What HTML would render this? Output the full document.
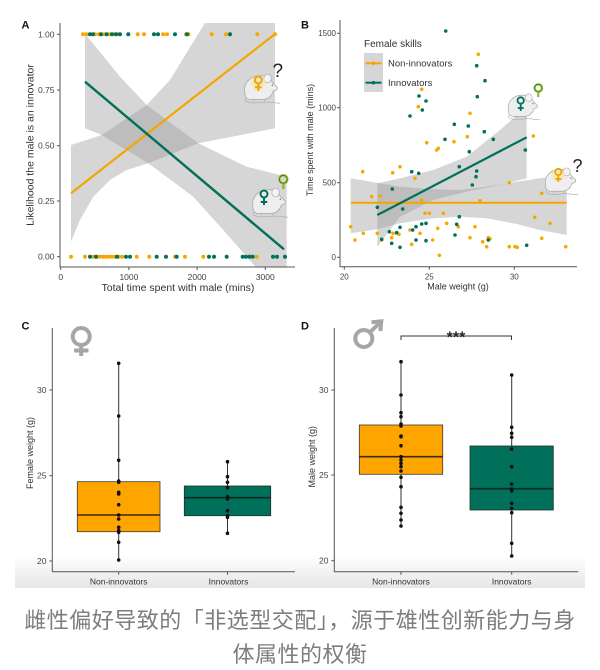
<!DOCTYPE html>
<html><head><meta charset="utf-8">
<style>
html,body{margin:0;padding:0;background:#fff;}
body{width:600px;height:670px;overflow:hidden;}
svg{display:block;}
text{font-family:"Liberation Sans",Arial,sans-serif;}
.cap{font-family:"Liberation Sans","Noto Sans CJK SC",sans-serif;}
</style></head><body>
<svg width="600" height="670" viewBox="0 0 600 670" xmlns="http://www.w3.org/2000/svg">
<defs>
<linearGradient id="band" x1="0" y1="0" x2="0" y2="1">
<stop offset="0" stop-color="#ffffff"/><stop offset="1" stop-color="#e6e6e6"/>
</linearGradient>
<clipPath id="clipA"><rect x="60" y="23" width="235" height="244"/></clipPath>
<clipPath id="clipB"><rect x="340" y="20" width="237" height="246"/></clipPath>
<g id="mouse">
<path d="M6,29 C0,33 10,36 22,34 C30,33 36,35 41,35" fill="none" stroke="#aaa" stroke-width="0.7"/>
<path d="M4,24 C2,14 10,6 20,6 C27,6 31,9 33,13 L38,18 C39,20 37,22 34,22 C33,26 30,30 24,31 L10,31 C6,31 4,28 4,24 Z" fill="#eeeeee" stroke="#a8a8a8" stroke-width="0.8"/>
<ellipse cx="28" cy="9" rx="4" ry="4.5" fill="#f4f4f4" stroke="#a8a8a8" stroke-width="0.7"/>
<circle cx="33" cy="16" r="0.7" fill="#666"/>
<path d="M14,31 l-1,2 M24,31 l1,2" stroke="#aaa" stroke-width="0.7"/>
</g>
</defs>

<!-- bottom gradient band -->
<rect x="15" y="556" width="570" height="32" fill="url(#band)"/>

<!-- ================= PANEL A ================= -->
<g clip-path="url(#clipA)">
<polygon fill="#999" fill-opacity="0.4" points="71,145 101.7,135 146.7,105 170,80 206.7,20 275,20 275,128.3 198.3,143.3 148.3,163.3 126.7,170 110,180 93.3,196.7 80,220 71,241.7"/>
<polygon fill="#999" fill-opacity="0.4" points="85,34 100,52 120,76.7 146.7,105 198.3,143.3 246.7,166.7 286.7,176.7 286.7,270 258.3,270 225,232 193.3,196.7 148.3,163.3 101.7,135 85,128.3"/>
</g>
<!-- mice A -->
<use href="#mouse" transform="translate(241,70) scale(0.95)"/>
<use href="#mouse" transform="translate(249,184) scale(0.95)"/>
<circle cx="258.3" cy="83" r="7" fill="#f7e6b0" opacity="0.7"/>
<g stroke="#F2A400" stroke-width="2" fill="none"><circle cx="258.3" cy="80" r="3.5"/><line x1="258.3" y1="83.5" x2="258.3" y2="91"/><line x1="255" y1="87.3" x2="261.6" y2="87.3"/></g>
<text x="272.5" y="77" font-size="19" fill="#222">?</text>
<g stroke="#00705A" stroke-width="2" fill="none"><circle cx="264" cy="194" r="3.5"/><line x1="264" y1="197.5" x2="264" y2="205"/><line x1="260.7" y1="202" x2="267.3" y2="202"/></g>
<g fill="none"><circle cx="283.3" cy="179.3" r="4" stroke="#a8c83a" stroke-width="2.6"/><circle cx="283.3" cy="179.3" r="4" stroke="#2f6b2f" stroke-width="0.8"/><line x1="283.3" y1="183.3" x2="283.3" y2="189" stroke="#8fb830" stroke-width="2.4"/></g>

<!-- lines A -->
<line x1="71" y1="193.3" x2="275" y2="34" stroke="#F5A500" stroke-width="2.2"/>
<line x1="85" y1="81.7" x2="284" y2="249.3" stroke="#00705A" stroke-width="2.4"/>

<!-- points A top -->
<g fill="#F7A800">
<circle cx="83" cy="34.3" r="2"/><circle cx="86.5" cy="34.3" r="2"/><circle cx="95" cy="34.3" r="2"/><circle cx="99" cy="34.3" r="2"/><circle cx="104" cy="34.3" r="2"/><circle cx="110" cy="34.3" r="2"/><circle cx="115" cy="34.3" r="2"/><circle cx="118" cy="34.3" r="2"/><circle cx="137.7" cy="34.3" r="2"/><circle cx="144" cy="34.3" r="2"/><circle cx="163" cy="34.3" r="2"/><circle cx="167" cy="34.3" r="2"/><circle cx="186" cy="34.3" r="2"/><circle cx="188.5" cy="34.3" r="2"/><circle cx="211.7" cy="34.3" r="2"/><circle cx="226" cy="34.3" r="2"/><circle cx="257.3" cy="34.3" r="2"/><circle cx="275" cy="34.3" r="2"/>
</g>
<g fill="#00705A">
<circle cx="90" cy="34.3" r="2"/><circle cx="93" cy="34.3" r="2"/><circle cx="101" cy="34.3" r="2"/><circle cx="106.7" cy="34.3" r="2"/><circle cx="112" cy="34.3" r="2"/><circle cx="116" cy="34.3" r="2"/><circle cx="120" cy="34.3" r="2"/><circle cx="128.3" cy="34.3" r="2"/><circle cx="154" cy="34.3" r="2"/><circle cx="158" cy="34.3" r="2"/><circle cx="175" cy="34.3" r="2"/><circle cx="187" cy="34.3" r="2"/><circle cx="230" cy="34.3" r="2"/>
</g>
<!-- points A bottom -->
<g fill="#F7A800">
<circle cx="71" cy="256.7" r="2"/><circle cx="85" cy="256.7" r="2"/><circle cx="93.3" cy="256.7" r="2"/><circle cx="97" cy="256.7" r="2"/><circle cx="100" cy="256.7" r="2"/><circle cx="103" cy="256.7" r="2"/><circle cx="106" cy="256.7" r="2"/><circle cx="109" cy="256.7" r="2"/><circle cx="112" cy="256.7" r="2"/><circle cx="115" cy="256.7" r="2"/><circle cx="119" cy="256.7" r="2"/><circle cx="122" cy="256.7" r="2"/><circle cx="136.7" cy="256.7" r="2"/><circle cx="149.3" cy="256.7" r="2"/><circle cx="175" cy="256.7" r="2"/><circle cx="185" cy="256.7" r="2"/><circle cx="203.3" cy="256.7" r="2"/><circle cx="256.7" cy="256.7" r="2"/>
</g>
<g fill="#00705A">
<circle cx="90" cy="256.7" r="2"/><circle cx="96" cy="256.7" r="2"/><circle cx="117" cy="256.7" r="2"/><circle cx="126" cy="256.7" r="2"/><circle cx="130" cy="256.7" r="2"/><circle cx="156.7" cy="256.7" r="2"/><circle cx="166" cy="256.7" r="2"/><circle cx="176.7" cy="256.7" r="2"/><circle cx="209" cy="256.7" r="2"/><circle cx="214" cy="256.7" r="2"/><circle cx="226.7" cy="256.7" r="2"/><circle cx="242.7" cy="256.7" r="2"/><circle cx="246" cy="256.7" r="2"/><circle cx="249.5" cy="256.7" r="2"/><circle cx="252.7" cy="256.7" r="2"/><circle cx="273" cy="256.7" r="2"/><circle cx="277" cy="256.7" r="2"/><circle cx="285" cy="256.7" r="2"/>
</g>

<!-- axes A -->
<g stroke="#555" stroke-width="1" fill="none">
<line x1="60" y1="23" x2="60" y2="267.5"/>
<line x1="60" y1="267" x2="295" y2="267"/>
<line x1="57" y1="34.3" x2="60" y2="34.3"/><line x1="57" y1="90" x2="60" y2="90"/><line x1="57" y1="145.7" x2="60" y2="145.7"/><line x1="57" y1="201" x2="60" y2="201"/><line x1="57" y1="256.7" x2="60" y2="256.7"/>
<line x1="60.7" y1="267" x2="60.7" y2="270"/><line x1="128.9" y1="267" x2="128.9" y2="270"/><line x1="197.1" y1="267" x2="197.1" y2="270"/><line x1="265.3" y1="267" x2="265.3" y2="270"/>
</g>
<g font-size="8.5" fill="#444" text-anchor="end">
<text x="54.5" y="37.3">1.00</text><text x="54.5" y="93">0.75</text><text x="54.5" y="148.7">0.50</text><text x="54.5" y="204">0.25</text><text x="54.5" y="259.7">0.00</text>
</g>
<g font-size="8.5" fill="#444" text-anchor="middle">
<text x="60.7" y="280">0</text><text x="128.9" y="280">1000</text><text x="197.1" y="280">2000</text><text x="265.3" y="280">3000</text>
</g>
<text x="178" y="291" font-size="10.5" fill="#333" text-anchor="middle">Total time spent with male (mins)</text>
<text transform="translate(33.5,145) rotate(-90)" font-size="10.5" fill="#333" text-anchor="middle">Likelihood the male is an innovator</text>
<text x="21.5" y="28.5" font-size="11" font-weight="bold" fill="#111">A</text>

<!-- ================= PANEL B ================= -->
<g clip-path="url(#clipB)">
<polygon fill="#999" fill-opacity="0.4" points="350.7,178.3 376.7,182.7 400,186.7 433.3,189.3 460,190 486.7,186.7 516.7,181.7 540,178.3 566.7,175 566.7,235 540,230 516.7,224 486.7,218.3 460,216.7 433.3,218.3 400,223.3 376.7,229.3 350.7,233.3"/>
<polygon fill="#999" fill-opacity="0.4" points="377.3,183.3 400,178.3 433.3,170 466.7,156.7 500,130 526.7,106.7 526.7,178.3 500,185 466.7,191.7 433.3,200 400,216.7 377.3,246.7"/>
</g>
<line x1="350.7" y1="202.7" x2="566.7" y2="202.7" stroke="#F5A500" stroke-width="2"/>

<!-- points B -->
<g fill="#F7A800">
<circle cx="350.7" cy="226.7" r="1.8"/><circle cx="355" cy="240" r="1.8"/><circle cx="362.7" cy="171.7" r="1.8"/><circle cx="363.3" cy="233.3" r="1.8"/><circle cx="371.7" cy="196.7" r="1.8"/><circle cx="377.3" cy="233.3" r="1.8"/><circle cx="380" cy="196" r="1.8"/><circle cx="381.7" cy="240" r="1.8"/><circle cx="392.7" cy="172.7" r="1.8"/><circle cx="393" cy="233.3" r="1.8"/><circle cx="391.7" cy="237.7" r="1.8"/><circle cx="400" cy="166.7" r="1.8"/><circle cx="399" cy="234.3" r="1.8"/><circle cx="410" cy="230" r="1.8"/><circle cx="411.7" cy="244.3" r="1.8"/><circle cx="415" cy="178.3" r="1.8"/><circle cx="420" cy="233.3" r="1.8"/><circle cx="421.7" cy="200" r="1.8"/><circle cx="425" cy="213.3" r="1.8"/><circle cx="426.7" cy="142.7" r="1.8"/><circle cx="418.3" cy="106.7" r="1.8"/><circle cx="421.7" cy="89.3" r="1.8"/><circle cx="429.3" cy="213.3" r="1.8"/><circle cx="432.7" cy="240" r="1.8"/><circle cx="436.7" cy="150" r="1.8"/><circle cx="438.3" cy="148.3" r="1.8"/><circle cx="437.7" cy="228.3" r="1.8"/><circle cx="439.3" cy="255.3" r="1.8"/><circle cx="443.3" cy="213.3" r="1.8"/><circle cx="446.7" cy="223.3" r="1.8"/><circle cx="454" cy="141.7" r="1.8"/><circle cx="458.3" cy="226.7" r="1.8"/><circle cx="467.3" cy="136.7" r="1.8"/><circle cx="470" cy="113.3" r="1.8"/><circle cx="470" cy="237.7" r="1.8"/><circle cx="475" cy="226.7" r="1.8"/><circle cx="478.3" cy="54.3" r="1.8"/><circle cx="482.7" cy="241.7" r="1.8"/><circle cx="486.7" cy="246.7" r="1.8"/><circle cx="488.3" cy="237.7" r="1.8"/><circle cx="490" cy="238.7" r="1.8"/><circle cx="509.3" cy="246.7" r="1.8"/><circle cx="515" cy="246.7" r="1.8"/><circle cx="517.3" cy="247.3" r="1.8"/><circle cx="509.3" cy="182.7" r="1.8"/><circle cx="533.3" cy="136" r="1.8"/><circle cx="534.7" cy="217.3" r="1.8"/><circle cx="541.7" cy="193.3" r="1.8"/><circle cx="541.7" cy="238.3" r="1.8"/><circle cx="550" cy="223.3" r="1.8"/><circle cx="565.7" cy="246.7" r="1.8"/><circle cx="480" cy="200.7" r="1.8"/>
</g>
<g fill="#00705A">
<circle cx="445.7" cy="31" r="1.8"/><circle cx="476.7" cy="65.7" r="1.8"/><circle cx="485" cy="80.7" r="1.8"/><circle cx="477.3" cy="96.7" r="1.8"/><circle cx="419" cy="96" r="1.8"/><circle cx="426" cy="101" r="1.8"/><circle cx="422.3" cy="110" r="1.8"/><circle cx="410" cy="116" r="1.8"/><circle cx="454.3" cy="124.3" r="1.8"/><circle cx="468.3" cy="126" r="1.8"/><circle cx="445" cy="139.3" r="1.8"/><circle cx="484.3" cy="131.7" r="1.8"/><circle cx="493.3" cy="139.3" r="1.8"/><circle cx="469.3" cy="151.7" r="1.8"/><circle cx="476.7" cy="171" r="1.8"/><circle cx="476" cy="176.7" r="1.8"/><circle cx="472.3" cy="185" r="1.8"/><circle cx="459.3" cy="166.7" r="1.8"/><circle cx="525.3" cy="150" r="1.8"/><circle cx="411.7" cy="171.7" r="1.8"/><circle cx="418.7" cy="173.3" r="1.8"/><circle cx="377.3" cy="207.3" r="1.8"/><circle cx="392.3" cy="189" r="1.8"/><circle cx="402.7" cy="209" r="1.8"/><circle cx="381.7" cy="239.3" r="1.8"/><circle cx="389.3" cy="231.7" r="1.8"/><circle cx="396.7" cy="232.7" r="1.8"/><circle cx="400" cy="227.3" r="1.8"/><circle cx="391.7" cy="243.3" r="1.8"/><circle cx="400" cy="247.3" r="1.8"/><circle cx="412.7" cy="230" r="1.8"/><circle cx="416" cy="226.7" r="1.8"/><circle cx="416" cy="240" r="1.8"/><circle cx="421.7" cy="224" r="1.8"/><circle cx="426" cy="223.3" r="1.8"/><circle cx="426" cy="240.7" r="1.8"/><circle cx="455" cy="235" r="1.8"/><circle cx="456.7" cy="224.3" r="1.8"/><circle cx="459.3" cy="216.7" r="1.8"/><circle cx="488.3" cy="240" r="1.8"/><circle cx="526.7" cy="245.3" r="1.8"/>
</g>
<line x1="377.3" y1="215" x2="526.7" y2="137.3" stroke="#00705A" stroke-width="2.2"/>

<!-- mice B -->
<use href="#mouse" transform="translate(505,90) scale(0.85)"/>
<use href="#mouse" transform="translate(542,164) scale(0.88)"/>
<g stroke="#00705A" stroke-width="1.8" fill="none"><circle cx="520.7" cy="100.5" r="3.2"/><line x1="520.7" y1="103.7" x2="520.7" y2="111"/><line x1="517.7" y1="108" x2="523.7" y2="108"/></g>
<g fill="none"><circle cx="538.3" cy="88" r="3.7" stroke="#a8c83a" stroke-width="2.4"/><circle cx="538.3" cy="88" r="3.7" stroke="#2f6b2f" stroke-width="0.8"/><line x1="538.3" y1="91.7" x2="538.3" y2="97" stroke="#8fb830" stroke-width="2.2"/></g>
<circle cx="558.3" cy="175" r="6.5" fill="#f7e6b0" opacity="0.7"/>
<g stroke="#F2A400" stroke-width="1.8" fill="none"><circle cx="558.3" cy="172" r="3.2"/><line x1="558.3" y1="175.2" x2="558.3" y2="182"/><line x1="555.3" y1="179" x2="561.3" y2="179"/></g>
<text x="572.5" y="172" font-size="18" fill="#222">?</text>

<!-- legend B -->
<text x="364" y="47" font-size="10" fill="#333">Female skills</text>
<rect x="364" y="53" width="19" height="39" fill="#d6d6d6"/>
<line x1="365.5" y1="63.3" x2="381.5" y2="63.3" stroke="#F5A500" stroke-width="2"/>
<circle cx="373.5" cy="63.3" r="1.8" fill="#F5A500"/>
<line x1="365.5" y1="82.7" x2="381.5" y2="82.7" stroke="#00705A" stroke-width="2"/>
<circle cx="373.5" cy="82.7" r="1.8" fill="#00705A"/>
<text x="388" y="66.5" font-size="9.5" fill="#333">Non-innovators</text>
<text x="388" y="86" font-size="9.5" fill="#333">Innovators</text>

<!-- axes B -->
<g stroke="#555" stroke-width="1" fill="none">
<line x1="340" y1="20" x2="340" y2="267"/>
<line x1="340" y1="266.7" x2="577" y2="266.7"/>
<line x1="337" y1="33.3" x2="340" y2="33.3"/><line x1="337" y1="107.7" x2="340" y2="107.7"/><line x1="337" y1="182.7" x2="340" y2="182.7"/><line x1="337" y1="257.3" x2="340" y2="257.3"/>
<line x1="344.3" y1="266.7" x2="344.3" y2="269.7"/><line x1="429.3" y1="266.7" x2="429.3" y2="269.7"/><line x1="514.3" y1="266.7" x2="514.3" y2="269.7"/>
</g>
<g font-size="8" fill="#444" text-anchor="end">
<text x="336" y="36.2">1500</text><text x="336" y="110.6">1000</text><text x="336" y="185.6">500</text><text x="336" y="260.2">0</text>
</g>
<g font-size="8" fill="#444" text-anchor="middle">
<text x="344.3" y="279.5">20</text><text x="429.3" y="279.5">25</text><text x="514.3" y="279.5">30</text>
</g>
<text x="458" y="289.5" font-size="9" fill="#333" text-anchor="middle">Male weight (g)</text>
<text transform="translate(313,140) rotate(-90)" font-size="9" fill="#333" text-anchor="middle">Time spent with male (mins)</text>
<text x="301" y="28.5" font-size="11" font-weight="bold" fill="#111">B</text>

<!-- ================= PANEL C ================= -->
<g fill="none" stroke="#a6a6a6" stroke-width="4">
<circle cx="81.2" cy="336.5" r="8.5"/>
<line x1="81.2" y1="345" x2="81.2" y2="356"/>
<line x1="74" y1="350.5" x2="88.5" y2="350.5"/>
</g>
<!-- whiskers -->
<line x1="118.7" y1="363.3" x2="118.7" y2="560" stroke="#333" stroke-width="1"/>
<line x1="227.5" y1="461.7" x2="227.5" y2="533.3" stroke="#333" stroke-width="1"/>
<rect x="77.3" y="481.7" width="82.7" height="50" fill="#FFA500" stroke="#3a3a3a" stroke-width="0.8"/>
<line x1="77.3" y1="515" x2="160" y2="515" stroke="#3a2a10" stroke-width="1.6"/>
<rect x="184.3" y="486" width="86.4" height="29.7" fill="#00705A" stroke="#1f2f2a" stroke-width="0.8"/>
<line x1="184.3" y1="497.7" x2="270.7" y2="497.7" stroke="#0b2a22" stroke-width="1.6"/>
<g fill="#111">
<circle cx="118.7" cy="363.3" r="1.8"/><circle cx="118.7" cy="416" r="1.8"/><circle cx="118.7" cy="460.3" r="1.8"/><circle cx="118.7" cy="481" r="1.8"/><circle cx="118.7" cy="482.3" r="1.8"/><circle cx="118.7" cy="492.3" r="1.8"/><circle cx="118.7" cy="494" r="1.8"/><circle cx="118.7" cy="504.7" r="1.8"/><circle cx="118.7" cy="515" r="1.8"/><circle cx="118.7" cy="519" r="1.8"/><circle cx="118.7" cy="527.3" r="1.8"/><circle cx="118.7" cy="530.7" r="1.8"/><circle cx="118.7" cy="532.3" r="1.8"/><circle cx="118.7" cy="542.3" r="1.8"/><circle cx="118.7" cy="560" r="1.8"/>
<circle cx="227.5" cy="461.7" r="1.8"/><circle cx="227.5" cy="476.7" r="1.8"/><circle cx="227.5" cy="482.3" r="1.8"/><circle cx="227.5" cy="487.7" r="1.8"/><circle cx="227.5" cy="496.7" r="1.8"/><circle cx="227.5" cy="499" r="1.8"/><circle cx="227.5" cy="510.7" r="1.8"/><circle cx="227.5" cy="515.7" r="1.8"/><circle cx="227.5" cy="517.3" r="1.8"/><circle cx="227.5" cy="533.3" r="1.8"/>
</g>
<g stroke="#555" stroke-width="1" fill="none">
<line x1="52.3" y1="328" x2="52.3" y2="572"/>
<line x1="52.3" y1="571.7" x2="295" y2="571.7"/>
<line x1="49.3" y1="390" x2="52.3" y2="390"/><line x1="49.3" y1="475.7" x2="52.3" y2="475.7"/><line x1="49.3" y1="561" x2="52.3" y2="561"/>
<line x1="118.7" y1="571.7" x2="118.7" y2="574.7"/><line x1="227.5" y1="571.7" x2="227.5" y2="574.7"/>
</g>
<g font-size="8.5" fill="#444" text-anchor="end">
<text x="46.5" y="393">30</text><text x="46.5" y="478.7">25</text><text x="46.5" y="564">20</text>
</g>
<g font-size="8.5" fill="#333" text-anchor="middle">
<text x="118.7" y="584.5">Non-innovators</text><text x="228.5" y="584.5">Innovators</text>
</g>
<text transform="translate(33,453) rotate(-90)" font-size="9" fill="#333" text-anchor="middle">Female weight (g)</text>
<text x="21.5" y="329.5" font-size="11" font-weight="bold" fill="#111">C</text>

<!-- ================= PANEL D ================= -->
<g fill="none" stroke="#a6a6a6" stroke-width="4">
<circle cx="363.8" cy="338.5" r="8.5"/>
<line x1="369.8" y1="332.5" x2="380" y2="322.5"/>
<polyline points="371.5,322.3 381.3,321.3 380.3,331"/>
</g>
<!-- significance -->
<g stroke="#333" stroke-width="1" fill="none">
<polyline points="401,340 401,336 511.5,336 511.5,340"/>
</g>
<text x="456" y="342.5" font-size="16" font-weight="bold" fill="#222" text-anchor="middle">***</text>
<line x1="401" y1="361.7" x2="401" y2="526" stroke="#333" stroke-width="1"/>
<line x1="511.7" y1="375" x2="511.7" y2="556" stroke="#333" stroke-width="1"/>
<rect x="359.3" y="425" width="83.4" height="49.3" fill="#FFA500" stroke="#3a3a3a" stroke-width="0.8"/>
<line x1="359.3" y1="456.7" x2="442.7" y2="456.7" stroke="#3a2a10" stroke-width="1.6"/>
<rect x="470" y="446" width="83.3" height="64" fill="#00705A" stroke="#1f2f2a" stroke-width="0.8"/>
<line x1="470" y1="488.7" x2="553.3" y2="488.7" stroke="#0b2a22" stroke-width="1.6"/>
<g fill="#111">
<circle cx="401" cy="361.7" r="1.8"/><circle cx="401" cy="395" r="1.8"/><circle cx="401" cy="412.7" r="1.8"/><circle cx="401" cy="416.7" r="1.8"/><circle cx="401" cy="424" r="1.8"/><circle cx="401" cy="426" r="1.8"/><circle cx="401" cy="436" r="1.8"/><circle cx="401" cy="436.7" r="1.8"/><circle cx="401" cy="445.7" r="1.8"/><circle cx="401" cy="456.7" r="1.8"/><circle cx="401" cy="460" r="1.8"/><circle cx="401" cy="463.3" r="1.8"/><circle cx="401" cy="466.7" r="1.8"/><circle cx="401" cy="471" r="1.8"/><circle cx="401" cy="477.3" r="1.8"/><circle cx="401" cy="486.7" r="1.8"/><circle cx="401" cy="507.3" r="1.8"/><circle cx="401" cy="513.3" r="1.8"/><circle cx="401" cy="520" r="1.8"/><circle cx="401" cy="526" r="1.8"/>
<circle cx="511.7" cy="375" r="1.8"/><circle cx="511.7" cy="427.3" r="1.8"/><circle cx="511.7" cy="433.3" r="1.8"/><circle cx="511.7" cy="437.3" r="1.8"/><circle cx="511.7" cy="449" r="1.8"/><circle cx="511.7" cy="466.7" r="1.8"/><circle cx="511.7" cy="484" r="1.8"/><circle cx="511.7" cy="489" r="1.8"/><circle cx="511.7" cy="490.7" r="1.8"/><circle cx="511.7" cy="503.3" r="1.8"/><circle cx="511.7" cy="508.3" r="1.8"/><circle cx="511.7" cy="512.7" r="1.8"/><circle cx="511.7" cy="543.3" r="1.8"/><circle cx="511.7" cy="556" r="1.8"/>
</g>
<g stroke="#555" stroke-width="1" fill="none">
<line x1="334.3" y1="328" x2="334.3" y2="572"/>
<line x1="334.3" y1="571.7" x2="578.3" y2="571.7"/>
<line x1="331.3" y1="390" x2="334.3" y2="390"/><line x1="331.3" y1="475" x2="334.3" y2="475"/><line x1="331.3" y1="560.7" x2="334.3" y2="560.7"/>
<line x1="401" y1="571.7" x2="401" y2="574.7"/><line x1="511.7" y1="571.7" x2="511.7" y2="574.7"/>
</g>
<g font-size="8.5" fill="#444" text-anchor="end">
<text x="328.5" y="393">30</text><text x="328.5" y="478">25</text><text x="328.5" y="563.7">20</text>
</g>
<g font-size="8.5" fill="#333" text-anchor="middle">
<text x="401" y="584.5">Non-innovators</text><text x="511.7" y="584.5">Innovators</text>
</g>
<text transform="translate(315,456.7) rotate(-90)" font-size="9" fill="#333" text-anchor="middle">Male weight (g)</text>
<text x="301" y="329.5" font-size="11" font-weight="bold" fill="#111">D</text>

<!-- caption -->
<text class="cap" x="300" y="628" font-size="22" fill="#7d7d7d" text-anchor="middle" letter-spacing="0.5">雌性偏好导致的「非选型交配」，源于雄性创新能力与身</text>
<text class="cap" x="300" y="662" font-size="22" fill="#7d7d7d" text-anchor="middle" letter-spacing="0.5">体属性的权衡</text>
</svg>
</body></html>
